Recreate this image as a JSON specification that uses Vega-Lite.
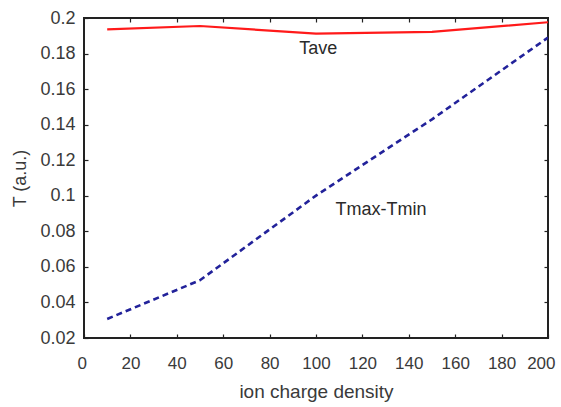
{
  "$schema": "https://vega.github.io/schema/vega-lite/v6.json",
  "width": 464,
  "height": 320,
  "autosize": {"type": "none"},
  "padding": {"left": 84, "top": 18, "right": 13, "bottom": 69},
  "background": "white",
  "config": {
    "view": {"stroke": "#222", "strokeWidth": 2},
    "font": "Liberation Sans",
    "axis": {
      "grid": false,
      "domain": false,
      "tickColor": "#222",
      "tickSize": -4,
      "tickWidth": 1.2,
      "labelFlush": false,
      "labelOverlap": false,
      "labelColor": "#3a3a3a",
      "labelFont": "Liberation Sans",
      "labelFontSize": 18,
      "titleColor": "#3a3a3a",
      "titleFont": "Liberation Sans",
      "titleFontSize": 18,
      "titleFontWeight": "normal"
    }
  },
  "datasets": {
    "series": [
      {"density": 10, "T": 0.1936, "series": "Tave"},
      {"density": 50, "T": 0.1955, "series": "Tave"},
      {"density": 100, "T": 0.1912, "series": "Tave"},
      {"density": 150, "T": 0.1922, "series": "Tave"},
      {"density": 200, "T": 0.1976, "series": "Tave"},
      {"density": 10, "T": 0.0307, "series": "Tmax-Tmin"},
      {"density": 50, "T": 0.0525, "series": "Tmax-Tmin"},
      {"density": 100, "T": 0.1001, "series": "Tmax-Tmin"},
      {"density": 150, "T": 0.1430, "series": "Tmax-Tmin"},
      {"density": 200, "T": 0.1890, "series": "Tmax-Tmin"}
    ],
    "labels": [
      {"density": 101, "T": 0.1826, "label": "Tave"},
      {"density": 128, "T": 0.0920, "label": "Tmax-Tmin"}
    ]
  },
  "layer": [
    {
      "data": {"name": "series"},
      "transform": [{"filter": "datum.series === 'Tave'"}],
      "mark": {"type": "line", "color": "#ff1a1a", "strokeWidth": 2.2, "clip": true},
      "encoding": {
        "x": {
          "field": "density",
          "type": "quantitative",
          "scale": {"domain": [0, 200], "nice": false, "zero": false},
          "axis": {
            "orient": "bottom",
            "values": [0, 20, 40, 60, 80, 100, 120, 140, 160, 180, 200],
            "title": "ion charge density",
            "titleFontSize": 19,
            "labelFontSize": 17,
            "labelFlush": true,
            "labelFlushOffset": 7,
            "labelPadding": 21,
            "titlePadding": 11
          }
        },
        "y": {
          "field": "T",
          "type": "quantitative",
          "scale": {"domain": [0.02, 0.2], "nice": false, "zero": false},
          "axis": {
            "orient": "left",
            "values": [0.02, 0.04, 0.06, 0.08, 0.1, 0.12, 0.14, 0.16, 0.18, 0.2],
            "format": "~f",
            "title": "T (a.u.)",
            "labelPadding": 13,
            "titlePadding": 10
          }
        }
      }
    },
    {
      "data": {"name": "series"},
      "transform": [{"filter": "datum.series === 'Tmax-Tmin'"}],
      "mark": {
        "type": "line",
        "color": "#22229a",
        "strokeWidth": 2.6,
        "strokeDash": [6, 4],
        "clip": true
      },
      "encoding": {
        "x": {
          "field": "density",
          "type": "quantitative",
          "axis": {
            "orient": "top",
            "values": [20, 40, 60, 80, 100, 120, 140, 160, 180],
            "labels": false,
            "title": null
          }
        },
        "y": {
          "field": "T",
          "type": "quantitative",
          "axis": {
            "orient": "right",
            "values": [0.04, 0.06, 0.08, 0.1, 0.12, 0.14, 0.16, 0.18],
            "labels": false,
            "title": null
          }
        }
      }
    },
    {
      "data": {"name": "labels"},
      "mark": {"type": "text", "fontSize": 18, "color": "#2a2a2a", "font": "Liberation Sans"},
      "encoding": {
        "x": {"field": "density", "type": "quantitative", "axis": null},
        "y": {"field": "T", "type": "quantitative", "axis": null},
        "text": {"field": "label"}
      }
    }
  ],
  "resolve": {"axis": {"x": "independent", "y": "independent"}}
}
